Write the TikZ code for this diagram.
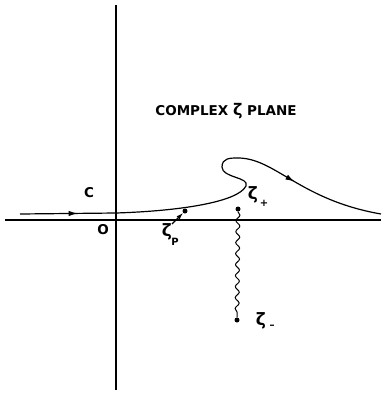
\documentclass[tikz,border=0pt]{standalone}
\usepackage{fontspec}
\setmainfont{DejaVu Sans}
\usetikzlibrary{decorations.pathmorphing,decorations.markings,arrows.meta}
\begin{document}
\begin{tikzpicture}[x=1pt,y=-1pt,
  axis/.style={line width=1.1pt},
  contour/.style={line width=1.2pt},
  lbl/.style={font=\bfseries\fontsize{13.5}{14}\selectfont, inner sep=0pt},
  zlbl/.style={font=\bfseries\fontsize{17}{18}\selectfont, inner sep=0pt},
  sub/.style={font=\bfseries\fontsize{10}{10}\selectfont, inner sep=0pt},
  pt/.style={circle,fill=black,inner sep=0pt,minimum size=5pt},
  midarrow/.style={postaction={decorate},decoration={markings,mark=at position #1 with {\arrow{Latex[length=9pt,width=5.5pt]}}}}]
\useasboundingbox (0,0) rectangle (381,394);
% axes
\coordinate (vt) at (116,5);
\coordinate (vb) at (116,390);
\coordinate (hl) at (5,220);
\coordinate (hr) at (381,220);
\draw[axis] (vt) -- (vb);
\draw[axis] (hl) -- (hr);
% contour
\coordinate (c0) at (20,214);
\coordinate (c1) at (116,213);
\coordinate (c2) at (246,186);
\coordinate (c3) at (222,167);
\coordinate (c4) at (238,158);
\coordinate (c5) at (381,214);
\draw[contour, midarrow=0.6] (c0) -- (c1);
\draw[contour] (c1) .. controls (180,211) and (238,202) .. (c2)
  .. controls (250,177) and (222,178) .. (c3)
  .. controls (222,158) and (230,158) .. (c4);
\draw[contour, midarrow=0.4] (c4) .. controls (275,158) and (300,200) .. (c5);
% points
\node[pt] (zp) at (185,211) {};
\node[pt] (zplus) at (238,209) {};
\node[pt] (zminus) at (237,320) {};
\draw[line width=1pt, decorate, decoration={snake, amplitude=2pt, segment length=11pt}] (zplus) -- (zminus);
% labels
\node[lbl] (C) at (89,193) {C};
\node[lbl] (O) at (103,230) {O};
\node[lbl] (title) at (226,111) {COMPLEX \fontsize{16}{16}\selectfont ζ\fontsize{13.5}{14}\selectfont{} PLANE};
\node[zlbl] (lzp) at (167,232) {ζ};
\node[sub] (lzpsub) at (175,242) {P};
\node[zlbl] (lzplus) at (253,195) {ζ};
\node[sub] (lzplussub) at (264,203) {+};
\node[zlbl] (lzminus) at (261,321) {ζ};
\node[sub] (lzminussub) at (272,327) {–};
\coordinate (pa) at (172,224);
\draw[line width=1.1pt, -{Latex[length=7pt,width=4.5pt]}] (pa) -- (zp);
\end{tikzpicture}
\end{document}
